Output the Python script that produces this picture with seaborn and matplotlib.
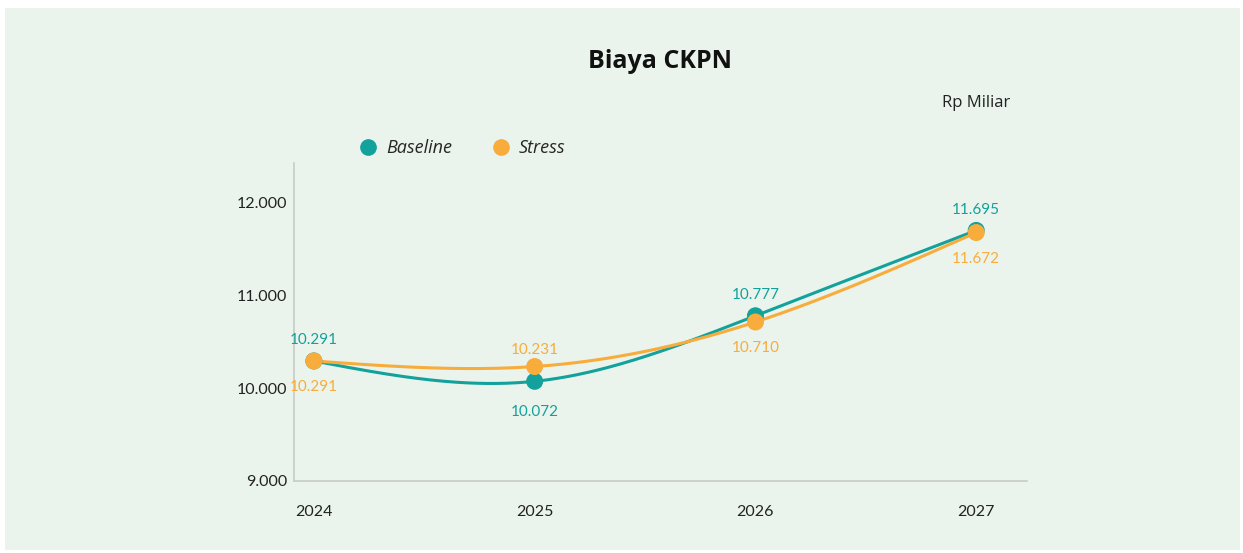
import numpy as np
import pandas as pd
import matplotlib
matplotlib.use("Agg")
import matplotlib.pyplot as plt
from matplotlib.patches import Rectangle
from matplotlib.lines import Line2D
import seaborn as sns

# Data (Rp Miliar)
years = [2024, 2025, 2026, 2027]
baseline = [10291, 10072, 10777, 11695]
stress = [10291, 10231, 10710, 11672]
baseline_labels = ["10.291", "10.072", "10.777", "11.695"]
stress_labels = ["10.291", "10.231", "10.710", "11.672"]
y_ticks = [9000, 10000, 11000, 12000]
y_tick_labels = ["9.000", "10.000", "11.000", "12.000"]

TEAL = "#13A19B"
ORANGE = "#F8AC3C"
BG = "#EAF4EC"

sns.set_theme(style="white")
plt.rcParams["font.family"] = ["Lato", "DejaVu Sans"]
WIDE = ["Open Sans", "DejaVu Sans"]


def natural_spline(x, y, n=200):
    """Natural cubic spline through (x, y) for a smooth line rendering."""
    x = np.asarray(x, float)
    y = np.asarray(y, float)
    k = len(x)
    h = np.diff(x)
    A = np.zeros((k, k))
    b = np.zeros(k)
    A[0, 0] = A[-1, -1] = 1
    for i in range(1, k - 1):
        A[i, i - 1] = h[i - 1]
        A[i, i] = 2 * (h[i - 1] + h[i])
        A[i, i + 1] = h[i]
        b[i] = 3 * ((y[i + 1] - y[i]) / h[i] - (y[i] - y[i - 1]) / h[i - 1])
    c = np.linalg.solve(A, b)
    xs = np.linspace(x[0], x[-1], n)
    ys = np.empty_like(xs)
    for j, xv in enumerate(xs):
        i = min(np.searchsorted(x, xv, side="right") - 1, k - 2)
        dx = xv - x[i]
        bi = (y[i + 1] - y[i]) / h[i] - h[i] * (2 * c[i] + c[i + 1]) / 3
        di = (c[i + 1] - c[i]) / (3 * h[i])
        ys[j] = y[i] + bi * dx + c[i] * dx ** 2 + di * dx ** 3
    return xs, ys


fig = plt.figure(figsize=(12.43, 5.53), dpi=100)
fig.patch.set_facecolor("white")
fig.add_artist(Rectangle((5 / 1243, 3 / 553), 1235 / 1243, 542 / 553,
                         transform=fig.transFigure, facecolor=BG,
                         edgecolor="none", zorder=-10))

ax = fig.add_axes([294 / 1243, 1 - 481 / 553, (1027 - 294) / 1243, (481 - 163) / 553])
ax.set_facecolor("none")

df = pd.DataFrame({"year": years * 2,
                   "value": baseline + stress,
                   "scenario": ["Baseline"] * 4 + ["Stress"] * 4})

for name, vals, color in [("Baseline", baseline, TEAL), ("Stress", stress, ORANGE)]:
    xs, ys = natural_spline(years, vals)
    sns.lineplot(x=xs, y=ys, ax=ax, color=color, lw=2.2, zorder=2)

sns.scatterplot(data=df, x="year", y="value", hue="scenario",
                palette={"Baseline": TEAL, "Stress": ORANGE},
                s=150, edgecolor="none", legend=False, ax=ax, zorder=3)

lab_font = dict(fontsize=11, ha="center")
for x, v, t in zip(years, baseline, baseline_labels):
    above = x != 2025
    ax.annotate(t, (x, v), xytext=(0, 10 if above else -17), textcoords="offset points",
                va="bottom" if above else "top", color=TEAL, **lab_font)
for x, v, t in zip(years, stress, stress_labels):
    above = x == 2025
    ax.annotate(t, (x, v), xytext=(0, 7 if above else -14), textcoords="offset points",
                va="bottom" if above else "top", color=ORANGE, **lab_font)

ax.set_xlim(2023.91, 2027.23)
ax.set_ylim(9000, 12420)
ax.set_xticks(years)
ax.set_xticklabels([str(y) for y in years], fontsize=11.5, color="#222222")
ax.set_yticks(y_ticks)
ax.set_yticklabels(y_tick_labels, fontsize=11.5, color="#222222")
ax.tick_params(axis="x", length=0, pad=17)
ax.tick_params(axis="y", length=0, pad=5)
ax.set_xlabel("")
ax.set_ylabel("")
for s in ["top", "right"]:
    ax.spines[s].set_visible(False)
for s in ["left", "bottom"]:
    ax.spines[s].set_color("#C8CCCA")
    ax.spines[s].set_linewidth(1.2)

fig.text(660 / 1243, 1 - 61 / 553, "Biaya CKPN", ha="center", va="center",
         fontsize=18, fontweight="bold", color="#111111", family=WIDE)
fig.text(1010 / 1243, 1 - 103 / 553, "Rp Miliar", ha="right", va="center",
         fontsize=12, color="#222222", family=WIDE)

handles = [Line2D([], [], marker="o", ls="none", color=TEAL, markersize=11),
           Line2D([], [], marker="o", ls="none", color=ORANGE, markersize=11)]
fig.legend(handles, ["Baseline", "Stress"], loc="center left",
           bbox_to_anchor=(343 / 1243, 1 - 148 / 553), ncol=2, frameon=False,
           prop={"style": "italic", "size": 13, "family": WIDE}, handletextpad=0.5,
           columnspacing=2.2, handlelength=1.0)

fig.savefig("out.png", dpi=100, facecolor=fig.get_facecolor())
